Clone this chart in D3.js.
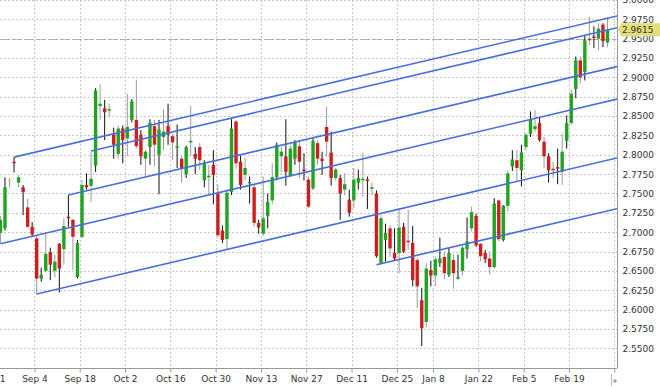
<!DOCTYPE html>
<html>
<head>
<meta charset="utf-8">
<script src="https://cdn.jsdelivr.net/npm/d3@7"></script>
<style>
  body { margin: 0; background: #fff; }
  svg { display: block; }
  text { font-family: "DejaVu Sans", Verdana, sans-serif; font-size: 9px; fill: #333; }
</style>
</head>
<body>
<div id="chart"></div>
<script>
// Daily bars, 2017-08-23 .. 2018-03-01 (weekdays, no Dec 25 / Jan 1)
const opens = [
  2.699, 2.705, 2.767, 2.791, 2.764, 2.758, 2.732, 2.707, 2.692, 2.640,
  2.650, 2.674, 2.650, 2.685, 2.678, 2.720, 2.716, 2.642, 2.694, 2.761,
  2.760, 2.786, 2.863, 2.860, 2.857, 2.827, 2.801, 2.834, 2.821, 2.845,
  2.845, 2.826, 2.795, 2.810, 2.837, 2.800, 2.823, 2.837, 2.824, 2.809,
  2.795, 2.775, 2.816, 2.801, 2.810, 2.767, 2.771, 2.787, 2.750, 2.702,
  2.691, 2.752, 2.843, 2.791, 2.774, 2.763, 2.758, 2.712, 2.698, 2.721,
  2.741, 2.771, 2.798, 2.798, 2.773, 2.795, 2.811, 2.781, 2.768, 2.757,
  2.815, 2.795, 2.836, 2.803, 2.770, 2.770, 2.755, 2.742, 2.741, 2.764,
  2.767, 2.768, 2.756, 2.750, 2.660, 2.690, 2.705, 2.673, 2.673, 2.707,
  2.689, 2.686, 2.664, 2.612, 2.584, 2.651, 2.644, 2.660, 2.668, 2.645,
  2.664, 2.640, 2.650, 2.678, 2.705, 2.721, 2.685, 2.673, 2.666, 2.655,
  2.741, 2.690, 2.734, 2.785, 2.793, 2.780, 2.810, 2.827, 2.833, 2.841,
  2.817, 2.798, 2.782, 2.784, 2.778, 2.818, 2.841, 2.885, 2.922, 2.907,
  2.950, 2.953, 2.950, 2.968, 2.945
];
const highs = [
  2.721, 2.771, 2.770, 2.797, 2.774, 2.761, 2.743, 2.713, 2.695, 2.654,
  2.698, 2.680, 2.671, 2.686, 2.718, 2.748, 2.717, 2.690, 2.767, 2.776,
  2.804, 2.886, 2.891, 2.871, 2.866, 2.835, 2.838, 2.838, 2.879, 2.872,
  2.897, 2.832, 2.806, 2.846, 2.845, 2.845, 2.859, 2.866, 2.827, 2.839,
  2.798, 2.812, 2.863, 2.810, 2.815, 2.793, 2.787, 2.806, 2.762, 2.709,
  2.755, 2.846, 2.845, 2.799, 2.796, 2.772, 2.761, 2.716, 2.772, 2.750,
  2.789, 2.816, 2.810, 2.846, 2.813, 2.819, 2.819, 2.802, 2.772, 2.823,
  2.819, 2.804, 2.862, 2.830, 2.783, 2.774, 2.776, 2.755, 2.783, 2.781,
  2.803, 2.772, 2.764, 2.754, 2.722, 2.711, 2.709, 2.705, 2.729, 2.712,
  2.729, 2.708, 2.667, 2.628, 2.660, 2.663, 2.668, 2.693, 2.675, 2.680,
  2.671, 2.671, 2.683, 2.719, 2.733, 2.724, 2.686, 2.677, 2.675, 2.744,
  2.742, 2.735, 2.780, 2.806, 2.806, 2.813, 2.828, 2.856, 2.858, 2.849,
  2.823, 2.802, 2.791, 2.808, 2.827, 2.851, 2.884, 2.927, 2.927, 2.955,
  2.978, 2.966, 2.970, 2.970, 2.978
];
const lows = [
  2.685, 2.702, 2.758, 2.777, 2.758, 2.722, 2.705, 2.695, 2.620, 2.636,
  2.648, 2.638, 2.642, 2.622, 2.658, 2.707, 2.651, 2.640, 2.692, 2.755,
  2.739, 2.778, 2.845, 2.819, 2.849, 2.795, 2.795, 2.789, 2.798, 2.842,
  2.808, 2.787, 2.772, 2.787, 2.785, 2.749, 2.806, 2.813, 2.793, 2.783,
  2.764, 2.770, 2.798, 2.775, 2.780, 2.758, 2.748, 2.736, 2.694, 2.686,
  2.677, 2.748, 2.782, 2.755, 2.767, 2.737, 2.707, 2.698, 2.695, 2.705,
  2.736, 2.767, 2.778, 2.760, 2.771, 2.787, 2.770, 2.767, 2.731, 2.755,
  2.787, 2.774, 2.798, 2.760, 2.767, 2.716, 2.748, 2.720, 2.731, 2.755,
  2.746, 2.730, 2.748, 2.667, 2.658, 2.662, 2.668, 2.664, 2.647, 2.673,
  2.677, 2.630, 2.602, 2.553, 2.577, 2.630, 2.630, 2.655, 2.639, 2.642,
  2.627, 2.639, 2.644, 2.666, 2.701, 2.681, 2.662, 2.660, 2.645, 2.654,
  2.688, 2.688, 2.727, 2.779, 2.765, 2.759, 2.806, 2.823, 2.830, 2.817,
  2.783, 2.764, 2.770, 2.762, 2.761, 2.808, 2.839, 2.873, 2.892, 2.896,
  2.942, 2.938, 2.935, 2.939, 2.939
];
const closes = [
  2.716, 2.758, 2.767, 2.789, 2.771, 2.752, 2.707, 2.697, 2.640, 2.645,
  2.672, 2.658, 2.662, 2.653, 2.708, 2.718, 2.694, 2.686, 2.761, 2.758,
  2.769, 2.883, 2.866, 2.855, 2.859, 2.813, 2.834, 2.819, 2.836, 2.869,
  2.811, 2.798, 2.804, 2.841, 2.813, 2.833, 2.830, 2.826, 2.816, 2.811,
  2.783, 2.810, 2.818, 2.795, 2.793, 2.789, 2.773, 2.774, 2.696, 2.690,
  2.751, 2.834, 2.789, 2.761, 2.783, 2.765, 2.712, 2.706, 2.718, 2.739,
  2.771, 2.813, 2.804, 2.778, 2.808, 2.816, 2.791, 2.779, 2.733, 2.818,
  2.795, 2.792, 2.817, 2.770, 2.781, 2.750, 2.762, 2.725, 2.768, 2.770,
  2.769, 2.766, 2.758, 2.669, 2.718, 2.699, 2.679, 2.666, 2.706, 2.675,
  2.687, 2.638, 2.630, 2.576, 2.653, 2.644, 2.665, 2.666, 2.647, 2.673,
  2.647, 2.642, 2.680, 2.688, 2.726, 2.683, 2.669, 2.665, 2.655, 2.737,
  2.691, 2.734, 2.776, 2.794, 2.783, 2.803, 2.826, 2.846, 2.837, 2.819,
  2.798, 2.780, 2.780, 2.782, 2.804, 2.841, 2.879, 2.922, 2.900, 2.948,
  2.948, 2.951, 2.963, 2.947, 2.9615
];

// x tick labels and the bar index each one sits on
const tickLabels = ["Aug 21", "Sep 4", "Sep 18", "Oct 2", "Oct 16", "Oct 30", "Nov 13",
  "Nov 27", "Dec 11", "Dec 25", "Jan 8", "Jan 22", "Feb 5", "Feb 19", "Mar 5"];
const tickBars = [-2, 8, 18, 28, 38, 48, 58, 68, 78, 88, 96, 106, 116, 126, 136];

const yTicks = [2.55, 2.575, 2.6, 2.625, 2.65, 2.675, 2.7, 2.725, 2.75, 2.775,
  2.8, 2.825, 2.85, 2.875, 2.9, 2.925, 2.95, 2.975, 3.0];

// channel lines: [start bar, start value, end bar, end value]
const channels = [
  [3, 2.797, 134, 2.9765],
  [20, 2.805, 134, 2.9612],
  [15, 2.748, 134, 2.911],
  [0, 2.685, 134, 2.869],
  [8, 2.620, 134, 2.793],
  [83, 2.658, 134, 2.7275]
];

const refLevel = 2.95;
const lastPrice = 2.9615;

const bars = opens.map((o, i) => ({ i, o, h: highs[i], l: lows[i], c: closes[i] }));

const width = 660, height = 388;
const plotW = 617, plotH = 368;

const svg = d3.select("#chart").append("svg")
  .attr("width", width)
  .attr("height", height);

const x = d3.scaleLinear().domain([-0.1, 136.1]).range([0, plotW]);
const y = d3.scaleLinear().domain([2.5245, 3.0]).range([plotH, 0]);
const step = x(1) - x(0);

svg.append("defs").append("clipPath").attr("id", "plot")
  .append("rect").attr("width", plotW).attr("height", plotH);

// grid
const grid = svg.append("g");
grid.selectAll("line.h")
  .data(yTicks)
  .enter().append("line")
  .attr("x1", 0).attr("x2", plotW)
  .attr("y1", d => Math.round(y(d)) + 0.5).attr("y2", d => Math.round(y(d)) + 0.5)
  .attr("stroke", "#c8c8c8")
  .attr("stroke-dasharray", "2,2");

grid.selectAll("line.v")
  .data(tickBars)
  .enter().append("line")
  .attr("x1", d => Math.round(x(d - 0.5)) + 0.5).attr("x2", d => Math.round(x(d - 0.5)) + 0.5)
  .attr("y1", 0).attr("y2", plotH)
  .attr("stroke", "#c8c8c8")
  .attr("stroke-dasharray", "2,2");

// reference level
svg.append("line")
  .attr("x1", 0).attr("x2", plotW)
  .attr("y1", Math.round(y(refLevel)) + 0.5).attr("y2", Math.round(y(refLevel)) + 0.5)
  .attr("stroke", "#aaa")
  .attr("stroke-dasharray", "4,2");

// candles
const plot = svg.append("g").attr("clip-path", "url(#plot)");
const candle = plot.selectAll("g.candle")
  .data(bars)
  .enter().append("g")
  .attr("transform", d => `translate(${x(d.i)},0)`);

candle.append("line")
  .attr("y1", d => y(d.h))
  .attr("y2", d => y(d.l))
  .attr("stroke", d => d.i % 2 ? "#111" : "#9a9a9a")
  .attr("stroke-width", 1);

candle.append("rect")
  .attr("x", -1.7)
  .attr("width", 3.4)
  .attr("y", d => y(Math.max(d.o, d.c)))
  .attr("height", d => Math.max(1.2, Math.abs(y(d.o) - y(d.c))))
  .attr("fill", d => d.c > d.o ? "#22a322" : d.c < d.o ? "#cc2020" : "#e6cf3a");

// channel lines, extended to the right edge
plot.selectAll("line.ch")
  .data(channels)
  .enter().append("line")
  .attr("x1", d => x(d[0]))
  .attr("y1", d => y(d[1]))
  .attr("x2", x(136.1))
  .attr("y2", d => y(d[1] + (d[3] - d[1]) / (d[2] - d[0]) * (136.1 - d[0])))
  .attr("stroke", "#4a6fdc")
  .attr("stroke-width", 1.6);

// axes
const xAxis = svg.append("g")
  .attr("transform", `translate(0,${plotH + 0.5})`)
  .call(d3.axisBottom(x)
    .tickValues(tickBars.map(d => d - 0.5))
    .tickFormat((d, i) => tickLabels[i])
    .tickSize(4)
    .tickPadding(3));
xAxis.select(".domain").attr("stroke", "#999").attr("d", `M0,0H${plotW}`);
xAxis.selectAll(".tick line").attr("stroke", "#999");
xAxis.selectAll(".tick text").attr("fill", "#333").style("font-size", "9px")
  .style("font-family", "DejaVu Sans, Verdana, sans-serif");
xAxis.selectAll(".tick").filter((d, i) => tickLabels[i] === "Mar 5").select("text").remove();

const yAxis = svg.append("g")
  .attr("transform", `translate(${plotW + 0.5},0)`)
  .call(d3.axisRight(y)
    .tickValues(yTicks)
    .tickFormat(d3.format(".4f"))
    .tickSize(0)
    .tickPadding(5));
yAxis.select(".domain").attr("stroke", "#999").attr("d", `M0,0V${plotH}`);
yAxis.selectAll(".tick text").attr("fill", "#333").style("font-size", "9px")
  .style("font-family", "DejaVu Sans, Verdana, sans-serif");

// last price tag
const ly = y(lastPrice);
svg.append("path")
  .attr("d", `M${plotW + 1},${ly} L${plotW + 4},${ly - 6.5} H${width} V${ly + 6.5} H${plotW + 4} Z`)
  .attr("fill", "#e2de78");
svg.append("text")
  .attr("x", plotW + 5)
  .attr("y", ly)
  .attr("dy", "0.35em")
  .attr("fill", "#333")
  .text(d3.format(".4f")(lastPrice));

// small corner marker
svg.append("line")
  .attr("x1", 611.5).attr("x2", 611.5)
  .attr("y1", 374).attr("y2", 386)
  .attr("stroke", "#bbb");
svg.append("path")
  .attr("d", "M613,381H617M615,379V383")
  .attr("stroke", "#888");
</script>
</body>
</html>
